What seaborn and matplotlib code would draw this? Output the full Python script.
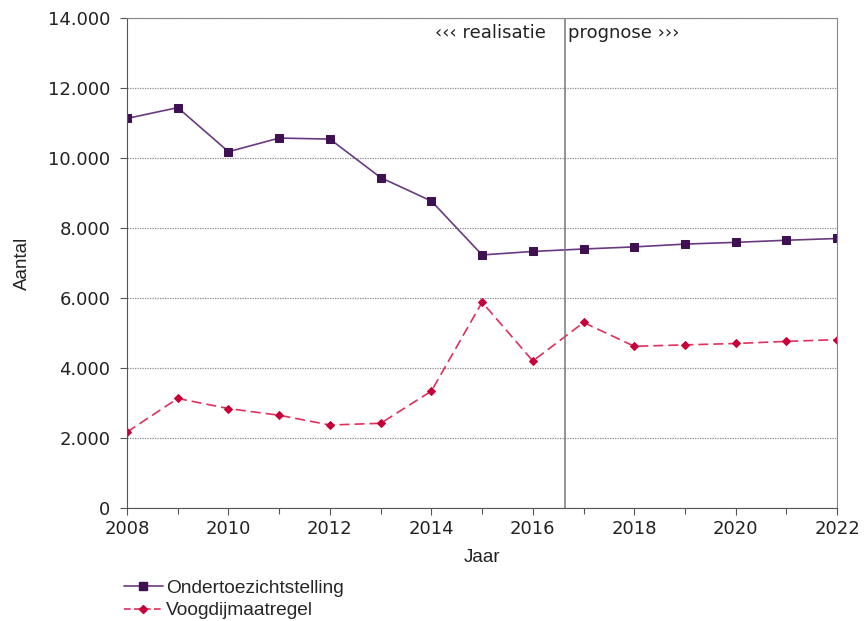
import numpy as np
import pandas as pd
import matplotlib
matplotlib.use("Agg")
import matplotlib.pyplot as plt
from matplotlib.ticker import MultipleLocator, FuncFormatter
from matplotlib.lines import Line2D
import seaborn as sns

# data
years = list(range(2008, 2023))
ots = [11130, 11440, 10180, 10570, 10540, 9440, 8770, 7230, 7330, 7400, 7460, 7540, 7590, 7650, 7700]
voogdij = [2170, 3130, 2840, 2650, 2370, 2420, 3340, 5880, 4200, 5300, 4620, 4660, 4700, 4760, 4810]
series_names = ["Ondertoezichtstelling", "Voogdijmaatregel"]

df = pd.DataFrame({"Jaar": years * 2,
                   "Aantal": ots + voogdij,
                   "reeks": [series_names[0]] * len(years) + [series_names[1]] * len(years)})

sns.set_style("white")
plt.rcParams["font.family"] = ["DejaVu Sans"]

fig = plt.figure(figsize=(8.64, 6.21), dpi=100)
ax = fig.add_axes([0.147, 0.182, 0.822, 0.789])

line_purple = "#6a3a80"
mark_purple = "#3f1052"
line_red = "#e0305c"
mark_red = "#c8003a"
sns.lineplot(data=df, x="Jaar", y="Aantal", hue="reeks", style="reeks",
             palette=[line_purple, line_red], markers=["s", "D"], dashes=[(1, 0), (6, 3)],
             linewidth=1.2, ax=ax, legend=False)
for ln, mc, ms in zip(ax.get_lines(), [mark_purple, mark_red], [5.5, 4.5]):
    ln.set_markerfacecolor(mc)
    ln.set_markeredgecolor(mc)
    ln.set_markersize(ms)

ax.set_xlim(2008, 2022)
ax.set_ylim(0, 14000)
ax.xaxis.set_major_locator(MultipleLocator(2))
ax.xaxis.set_minor_locator(MultipleLocator(1))
ax.yaxis.set_major_locator(MultipleLocator(2000))
ax.yaxis.set_major_formatter(FuncFormatter(lambda v, p: f"{int(v):,}".replace(",", ".")))
ax.tick_params(axis="both", which="major", direction="out", length=5, width=0.8,
               color="#555555", labelsize=13, labelcolor="#222222", bottom=True, left=True)
ax.tick_params(axis="y", which="major", pad=7)
ax.tick_params(axis="x", which="minor", direction="out", length=4, width=0.8,
               color="#555555", bottom=True)
ax.grid(axis="y", color="#888888", linestyle=(0, (1, 1)), linewidth=0.9)
ax.grid(axis="x", visible=False)
for side in ["left", "bottom"]:
    ax.spines[side].set_color("#555555")
for side in ["top", "right"]:
    ax.spines[side].set_color("#888888")
    ax.spines[side].set_linewidth(0.8)

ax.axvline(2016.64, color="#777777", linewidth=1.1)
ax.text(2016.25, 13580, "‹‹‹ realisatie", ha="right", va="center", fontsize=13, color="#222222")
ax.text(2016.7, 13580, "prognose ›››", ha="left", va="center", fontsize=13, color="#222222")

ax.set_xlabel("Jaar", fontsize=13.5, family="Liberation Sans", color="#222222", labelpad=8)
ax.set_ylabel("Aantal", fontsize=13.5, family="Liberation Sans", color="#222222", labelpad=12)

handles = [Line2D([], [], color=line_purple, marker="s", markersize=5.5, markerfacecolor=mark_purple,
                  markeredgecolor=mark_purple, linewidth=1.2),
           Line2D([], [], color=line_red, marker="D", markersize=4, markerfacecolor=mark_red,
                  markeredgecolor=mark_red, linewidth=1.2, dashes=(4, 2))]
leg = fig.legend(handles, series_names, loc="lower left", bbox_to_anchor=(0.126, -0.022),
                 frameon=False, prop={"family": "Liberation Sans", "size": 13.8},
                 handlelength=2.0, handletextpad=0.2, labelspacing=0.25,
                 borderpad=0.3)

fig.savefig("out.png", dpi=100)
